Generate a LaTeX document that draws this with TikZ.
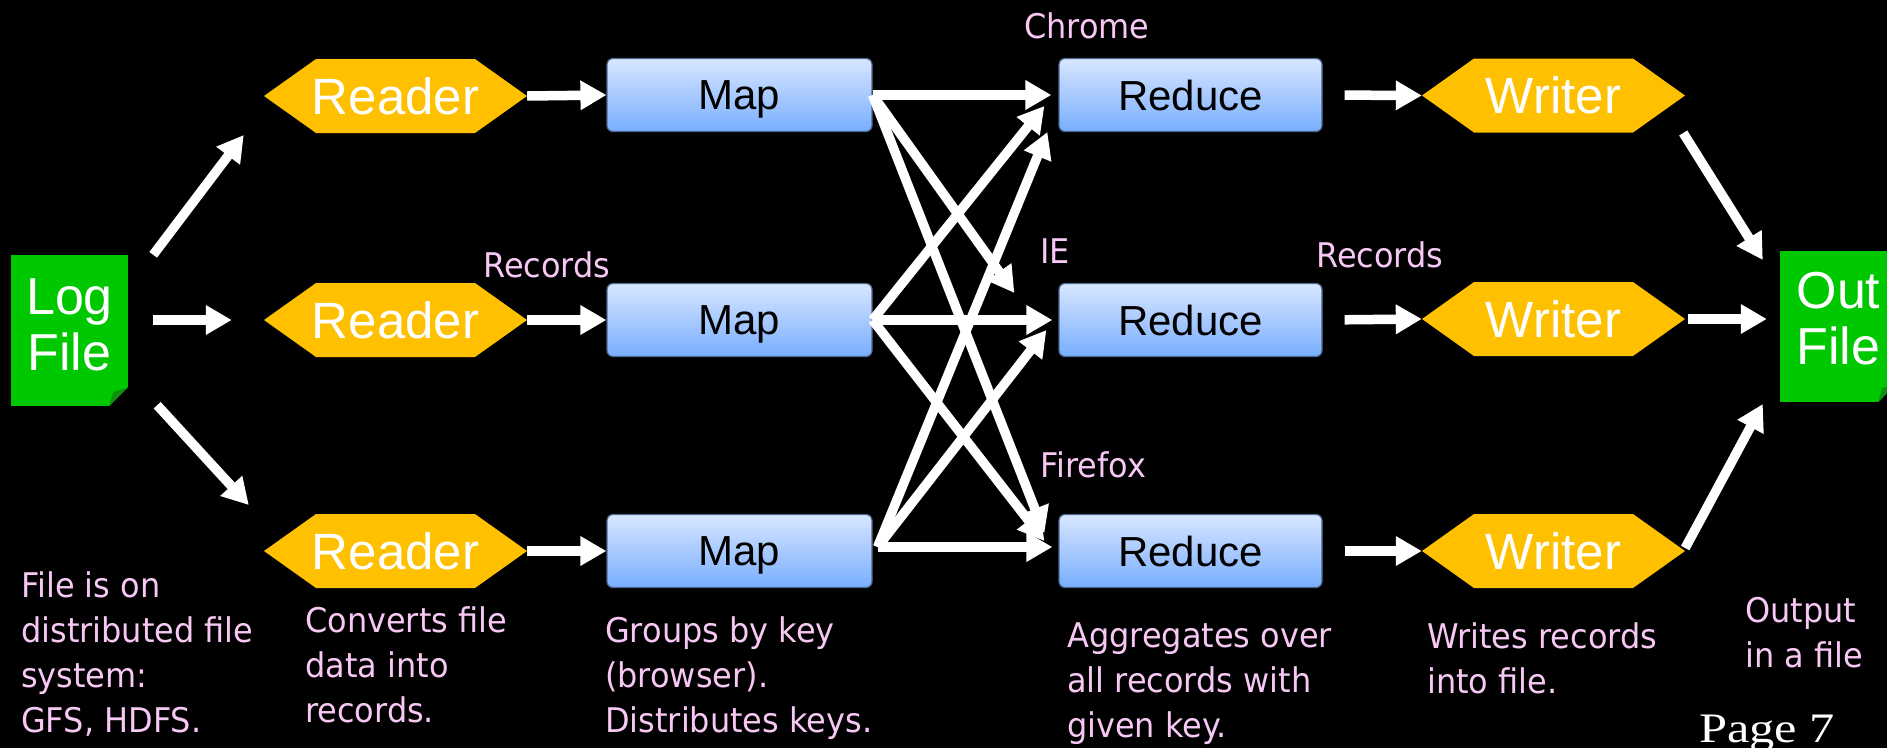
\documentclass[tikz,border=0pt]{standalone}
\usepackage{fontspec}
\usepackage{graphicx}
\setmainfont{Liberation Sans}
\newfontfamily\labfont[FakeStretch=0.94]{DejaVu Sans}
\newfontfamily\pagefont{Liberation Serif}
\usetikzlibrary{arrows.meta,calc}
\definecolor{filegreen}{HTML}{00C800}
\definecolor{foldgreen}{HTML}{0E8F0E}
\definecolor{hexorange}{HTML}{FFC000}
\definecolor{boxtop}{HTML}{D8E6FF}
\definecolor{boxbot}{HTML}{78AEFF}
\definecolor{boxline}{HTML}{4A6890}
\definecolor{pinklab}{HTML}{F8C8F4}
\newcommand{\filetext}[2]{\parbox[c][151pt][t]{117pt}{\centering\fontsize{52}{56}\selectfont\vspace*{#1}#2}}
\tikzset{
  filebox/.style={rectangle, fill=filegreen, minimum width=117pt, minimum height=151pt, inner sep=0pt, text=white},
  hexnode/.style={rectangle, minimum width=263pt, minimum height=74pt, inner sep=0pt, text=white,
    font=\fontsize{51}{56}\selectfont,
    path picture={\fill[hexorange] (path picture bounding box.west)
      -- ([xshift=52pt]path picture bounding box.north west)
      -- ([xshift=-52pt]path picture bounding box.north east)
      -- (path picture bounding box.east)
      -- ([xshift=-52pt]path picture bounding box.south east)
      -- ([xshift=52pt]path picture bounding box.south west) -- cycle;}},
  procbox/.style={rectangle, rounded corners=6pt, top color=boxtop, bottom color=boxbot, draw=boxline,
    line width=1.2pt, minimum height=73pt, inner sep=0pt, text=black, text depth=0pt, font=\fontsize{42}{48}\selectfont},
  lab/.style={anchor=north west, inner sep=0pt, align=left, text=pinklab, font=\labfont\fontsize{34}{45.3}\selectfont},
  slab/.style={anchor=base west, inner sep=0pt, text=pinklab, font=\labfont\fontsize{34}{45.3}\selectfont},
  arr/.style={draw=white, line width=9.5pt, -{Triangle[length=26pt,width=28pt]}},
}
\begin{document}
\begin{tikzpicture}[x=1pt,y=-1pt]
\useasboundingbox[fill=black] (0,0) rectangle (1887,748);

% files
\node[filebox] (log) at (69.5,330.5) {\filetext{24pt}{Log\\File}};
\fill[black] (log.south east) -- ++(0,-19) -- ++(-19,19) -- cycle;
\fill[foldgreen] ($(log.south east)+(0,-19)$) -- ($(log.south east)+(-19,0)$) -- ($(log.south east)+(-15,-14)$) -- cycle;
\node[filebox] (out) at (1838.5,326.5) {\filetext{21.5pt}{Out\\File}};
\fill[black] (out.south east) -- ++(0,-19) -- ++(-19,19) -- cycle;
\fill[foldgreen] ($(out.south east)+(0,-19)$) -- ($(out.south east)+(-19,0)$) -- ($(out.south east)+(-15,-14)$) -- cycle;

% readers
\node[hexnode] (reader1) at (395.5,96) {Reader};
\node[hexnode] (reader2) at (395.5,320) {Reader};
\node[hexnode] (reader3) at (395.5,551) {Reader};
% maps
\node[procbox, minimum width=265pt] (map1) at (739.5,95) {Map};
\node[procbox, minimum width=265pt] (map2) at (739.5,320) {Map};
\node[procbox, minimum width=265pt] (map3) at (739.5,551) {Map};
% reduces
\node[procbox, minimum width=263pt] (reduce1) at (1190.5,95) {Reduce};
\node[procbox, minimum width=263pt] (reduce2) at (1190.5,320) {Reduce};
\node[procbox, minimum width=263pt] (reduce3) at (1190.5,551) {Reduce};
% writers
\node[hexnode] (writer1) at (1553.5,95.5) {Writer};
\node[hexnode] (writer2) at (1553.5,319) {Writer};
\node[hexnode] (writer3) at (1553.5,551) {Writer};

% labels
\node[slab] (lchrome) at (1024,38) {Chrome};
\node[slab] (lrec1) at (483,277) {Records};
\node[slab] (lie) at (1040,263) {IE};
\node[slab] (lrec2) at (1316,267) {Records};
\node[slab] (lfirefox) at (1040,477) {Firefox};
\node[lab] (dfs) at (21,571) {File is on\\distributed file\\system:\\GFS, HDFS.};
\node[lab] (dconv) at (305,606) {Converts file\\data into\\records.};
\node[lab] (dgroup) at (605,616) {Groups by key\\(browser).\\Distributes keys.};
\node[lab] (dagg) at (1067,622) {Aggregates over\\all records with\\given key.};
\node[lab] (dwrite) at (1427,622) {Writes records\\into file.};
\node[lab] (dout) at (1745,597) {Output\\in a file};
\node[anchor=base west, inner sep=0pt, text=white, font=\pagefont\fontsize{42}{46}\selectfont] (page) at (1699,742) {\scalebox{1.2}[1]{Page 7}};

% coordinates for free ends
\coordinate (lr1s) at ($(log.north east)+(25,0)$);
\coordinate (lr1e) at ($(reader1.west)+(-20,39)$);
\coordinate (lr3s) at ($(log.south east)+(29,-1)$);
\coordinate (lr3e) at ($(reader3.west)+(-15,-46)$);
\coordinate (m3o) at ($(map3.east)+(5,-4)$);
\coordinate (t12) at ($(reduce2.west)+(-44,-27)$);
\coordinate (t13) at ($(reduce3.west)+(-14,-18)$);
\coordinate (t21) at ($(reduce1.west)+(-14,11)$);
\coordinate (t23) at ($(reduce3.west)+(-14,-10)$);
\coordinate (t31) at ($(reduce1.west)+(-11,37)$);
\coordinate (t32) at ($(reduce2.west)+(-12,10)$);
\coordinate (w1s) at ($(writer1.east)+(-2,37.5)$);
\coordinate (w1e) at ($(out.west)+(-17,-66.5)$);
\coordinate (w3s) at ($(writer3.east)+(0,-3)$);
\coordinate (w3e) at ($(out.west)+(-17,77.5)$);

% log -> readers
\draw[arr] (lr1s) -- (lr1e);
\draw[arr] ($(log.east|-reader2.west)+(25,0)$) -- ($(reader2.west)+(-32,0)$);
\draw[arr] (lr3s) -- (lr3e);
% readers -> maps
\draw[arr] (reader1.east) -- (map1.west);
\draw[arr] (reader2.east) -- (map2.west);
\draw[arr] (reader3.east) -- (map3.west);
% maps -> reduces
\draw[arr, shorten >=7pt] (map1.east) -- (reduce1.west);
\draw[arr] (map1.east) -- (t12);
\draw[arr] (map1.east) -- (t13);
\draw[arr] (map2.east) -- (t21);
\draw[arr, shorten >=6pt] (map2.east) -- (reduce2.west);
\draw[arr] (map2.east) -- (t23);
\draw[arr] (m3o) -- (t31);
\draw[arr] (m3o) -- (t32);
\draw[arr, shorten >=6pt] (m3o) -- (reduce3.west|-m3o);
% reduces -> writers
\draw[arr, shorten <=22pt] (reduce1.east) -- (writer1.west);
\draw[arr, shorten <=22pt] (reduce2.east) -- (writer2.west);
\draw[arr, shorten <=22pt] (reduce3.east) -- (writer3.west);
% writers -> out
\draw[arr] (w1s) -- (w1e);
\draw[arr, shorten <=3pt, shorten >=13pt] (writer2.east) -- (out.west|-writer2.east);
\draw[arr] (w3s) -- (w3e);
\end{tikzpicture}
\end{document}
